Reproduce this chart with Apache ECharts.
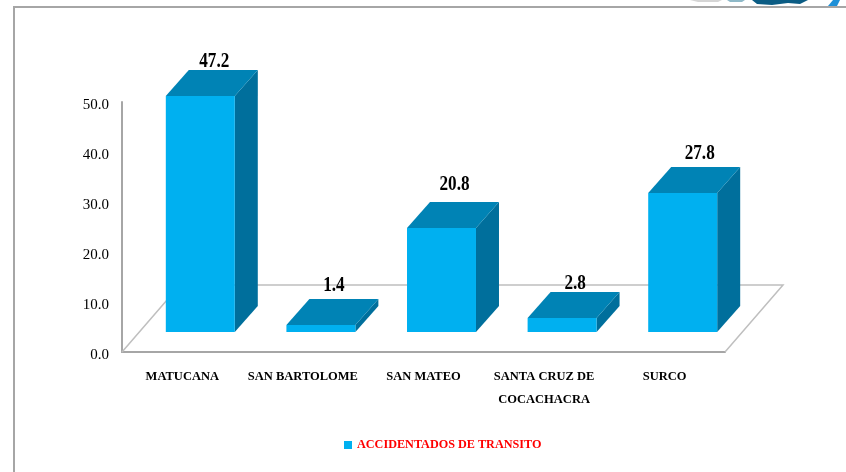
<!DOCTYPE html>
<html>
<head>
<meta charset="utf-8">
<style>
html, body { margin: 0; padding: 0; background: #fff; }
#chart { width: 846px; height: 472px; }
</style>
<script src="https://cdn.jsdelivr.net/npm/echarts@6/dist/echarts.min.js"></script>
</head>
<body>
<div id="chart"></div>
<script>
var categories = ['MATUCANA', 'SAN BARTOLOME', 'SAN MATEO', 'SANTA CRUZ DE\nCOCACHACRA', 'SURCO'];
var values = [47.2, 1.4, 20.8, 2.8, 27.8];
var seriesName = 'ACCIDENTADOS DE TRANSITO';

var fontName = '"Liberation Serif", serif';
var frontColor = '#00B0F0';
var topColor = '#0083B5';
var sideColor = '#006F9C';
var wallColor = '#A6A6A6';

// falso 3D: profundidad de las barras y del piso, en pixeles
var barDepthX = 23;
var barDepthY = 26;
var floorDepthX = 58;
var floorDepthY = 67;
var barLift = 20;
var barShift = 18;
// ajuste fino de cada etiqueta respecto a la barra
var labelNudge = [[0, 3], [-1, -2], [-1, -6], [-1, 3], [3, -2]];

function renderFloor(params, api) {
    var c = params.coordSys;
    var x0 = c.x, x1 = c.x + c.width, y = c.y + c.height;
    var line = { stroke: '#BFBFBF', lineWidth: 1.5, fill: null };
    return {
        type: 'polyline',
        shape: { points: [[x0, y], [x0 + floorDepthX, y - floorDepthY], [x1 + floorDepthX, y - floorDepthY], [x1, y]] },
        style: line,
        silent: true
    };
}

function renderBar(params, api) {
    var i = api.value(0);
    var top = api.coord([i, api.value(1)]);
    var base = api.coord([i, 0]);
    var w = api.size([1, 0])[0] * 0.572;
    var left = top[0] + barShift - w / 2;
    var right = left + w;
    var y0 = top[1] - barLift;
    var y1 = base[1] - barLift;
    var nudge = labelNudge[i];
    return {
        type: 'group',
        children: [
            {
                type: 'polygon',
                shape: { points: [[right, y0], [right + barDepthX, y0 - barDepthY], [right + barDepthX, y1 - barDepthY], [right, y1]] },
                style: { fill: sideColor }
            },
            {
                type: 'polygon',
                shape: { points: [[left, y0], [left + barDepthX, y0 - barDepthY], [right + barDepthX, y0 - barDepthY], [right, y0]] },
                style: { fill: topColor }
            },
            {
                type: 'rect',
                shape: { x: left, y: y0, width: w, height: y1 - y0 },
                style: { fill: frontColor }
            },
            {
                type: 'text',
                x: left + w / 2 + 14 + nudge[0],
                y: y0 - barDepthY - 12 + nudge[1],
                scaleX: 0.78,
                style: {
                    text: api.value(1).toFixed(1),
                    font: 'bold 22px ' + fontName,
                    fill: '#000',
                    align: 'center',
                    verticalAlign: 'middle'
                }
            }
        ]
    };
}

var barData = [];
for (var i = 0, len = values.length; i < len; i++) {
    barData.push([i, values[i]]);
}

var option = {
    animation: false,
    backgroundColor: '#fff',
    grid: { left: 122, top: 102, width: 603, height: 250 },
    legend: {
        left: 344,
        top: 439,
        padding: 0,
        icon: 'rect',
        itemWidth: 8,
        itemHeight: 8,
        itemGap: 3,
        data: [seriesName],
        textStyle: { color: '#FF0000', fontFamily: fontName, fontWeight: 'bold', fontSize: 12.2 }
    },
    xAxis: {
        type: 'category',
        data: categories,
        axisLine: { lineStyle: { color: wallColor, width: 2 } },
        axisTick: { show: false },
        axisLabel: {
            interval: 0,
            margin: 13,
            color: '#000',
            fontFamily: fontName,
            fontWeight: 'bold',
            fontSize: 12.5,
            lineHeight: 23
        }
    },
    yAxis: {
        type: 'value',
        min: 0,
        max: 50,
        interval: 10,
        axisLine: { show: true, lineStyle: { color: wallColor, width: 2 } },
        axisTick: { show: false },
        splitLine: { show: false },
        axisLabel: {
            margin: 13,
            verticalAlign: 'top',
            lineHeight: 6,
            color: '#000',
            fontFamily: fontName,
            fontSize: 15,
            formatter: function(v) { return v.toFixed(1); }
        }
    },
    series: [
        {
            type: 'custom',
            name: 'piso',
            silent: true,
            renderItem: renderFloor,
            data: [[0, 0]],
            z: 1
        },
        {
            type: 'custom',
            name: seriesName,
            renderItem: renderBar,
            encode: { x: 0, y: 1 },
            itemStyle: { color: frontColor },
            data: barData,
            z: 3
        }
    ],
    graphic: [
        // marco de la lamina
        { type: 'polyline', silent: true, shape: { points: [[14, 472], [14, 7], [846, 7]] }, style: { stroke: '#A6A6A6', lineWidth: 2, fill: null } },
        // restos del logo cortado arriba
        { type: 'polygon', silent: true, shape: { points: [[752, 0], [808, 0], [800, 4], [788, 3], [772, 5], [757, 4]] }, style: { fill: '#0B5C84' } },
        { type: 'polygon', silent: true, shape: { points: [[727, 0], [745, 0], [742, 2], [730, 2]] }, style: { fill: '#8FB9C8' } },
        { type: 'polygon', silent: true, shape: { points: [[690, 0], [722, 0], [718, 2], [698, 2]] }, style: { fill: '#D5D5D5' } },
        { type: 'polygon', silent: true, shape: { points: [[833, 0], [840, 0], [837, 6], [828, 6]] }, style: { fill: '#1E90D8' } }
    ]
};

var doc = document.getElementById('chart');
echarts.init(doc).setOption(option);
</script>
</body>
</html>
